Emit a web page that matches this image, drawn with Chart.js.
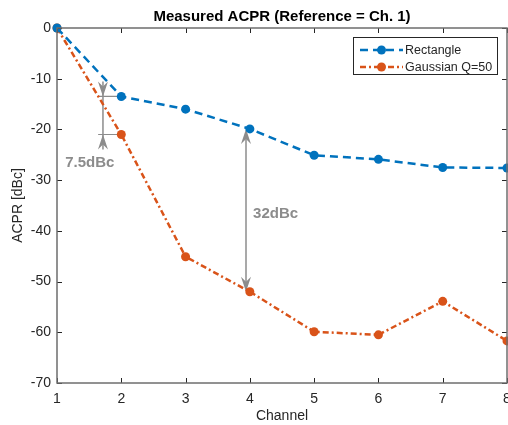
<!DOCTYPE html>
<html>
<head>
<meta charset="utf-8">
<script src="https://cdn.jsdelivr.net/npm/chart.js@4.4.1/dist/chart.umd.min.js"></script>
<style>
    html, body { margin: 0; padding: 0; overflow: hidden; background: #fff; }
    #wrap { position: relative; width: 520px; height: 425px; }
</style>
</head>
<body>
<div id="wrap"><canvas id="acprChart" width="520" height="425"></canvas></div>
<script>
// data
const channels = [1, 2, 3, 4, 5, 6, 7, 8];
const rectangle = [0, -13.5, -16.0, -19.9, -25.1, -25.9, -27.5, -27.6];
const gaussian = [0, -21.0, -45.1, -52.0, -59.9, -60.5, -53.9, -61.7];
const yTicks = [0, -10, -20, -30, -40, -50, -60, -70];
const seriesNames = ['Rectangle', 'Gaussian Q=50'];

// difference annotations (channel, from, to, label)
const gapSmall = { x: 1.715, from: -13.5, to: -21.0, text: '7.5dBc', inward: true, barFrom: 1.64, barTo: 2.0 };
const gapLarge = { x: 3.94, from: -19.9, to: -52.0, text: '32dBc', inward: false };
const gapSmallLabel = { x: 1.51, y: -26.6 };
const gapLargeLabel = { x: 4.40, y: -36.7 };

const BLUE = '#0072BD';
const ORANGE = '#D95319';
const GREY = '#8c8c8c';
const AXIS = '#262626';
const FONT = "'Liberation Sans', Arial, Helvetica, sans-serif";

function toPoints(ys) {
    return channels.map((c, i) => ({ x: c, y: ys[i] }));
}

function arrowHead(ctx, x, tipY, dir) {
    // dir = 1 -> pointing down, -1 -> pointing up
    const L = 15, w = 5, notch = 5;
    ctx.beginPath();
    ctx.moveTo(x, tipY);
    ctx.lineTo(x - w, tipY - dir * L);
    ctx.lineTo(x, tipY - dir * (L - notch));
    ctx.lineTo(x + w, tipY - dir * L);
    ctx.closePath();
    ctx.fill();
}

const annotationPlugin = {
    id: 'gapArrows',
    beforeDatasetsDraw(chart) {
        const ctx = chart.ctx;
        const xs = chart.scales.x, ys = chart.scales.y;
        ctx.save();
        ctx.strokeStyle = GREY;
        ctx.fillStyle = GREY;
        ctx.lineWidth = 1.5;

        [gapSmall, gapLarge].forEach(g => {
            const px = xs.getPixelForValue(g.x);
            const y1 = ys.getPixelForValue(g.from);
            const y2 = ys.getPixelForValue(g.to);
            ctx.beginPath();
            if (g.inward) {
                ctx.moveTo(px, y1 - 15);
                ctx.lineTo(px, y2 + 15);
            } else {
                ctx.moveTo(px, y1 + 6);
                ctx.lineTo(px, y2 - 6);
            }
            ctx.stroke();
            if (g.inward) {
                arrowHead(ctx, px, y1, 1);
                arrowHead(ctx, px, y2, -1);
                ctx.lineWidth = 1.2;
                ctx.beginPath();
                const b1 = xs.getPixelForValue(g.barFrom), b2 = xs.getPixelForValue(g.barTo);
                ctx.moveTo(b1, y1); ctx.lineTo(b2, y1);
                ctx.moveTo(b1, y2); ctx.lineTo(b2, y2);
                ctx.stroke();
                ctx.lineWidth = 1.5;
            } else {
                arrowHead(ctx, px, y1, -1);
                arrowHead(ctx, px, y2, 1);
            }
        });

        ctx.font = 'bold 15px ' + FONT;
        ctx.textBaseline = 'middle';
        ctx.textAlign = 'center';
        ctx.fillText(gapSmall.text, xs.getPixelForValue(gapSmallLabel.x), ys.getPixelForValue(gapSmallLabel.y));
        ctx.fillText(gapLarge.text, xs.getPixelForValue(gapLargeLabel.x), ys.getPixelForValue(gapLargeLabel.y));
        ctx.restore();
    }
};

const boxPlugin = {
    id: 'matlabBox',
    afterDraw(chart) {
        const ctx = chart.ctx;
        const a = chart.chartArea;
        const xs = chart.scales.x, ys = chart.scales.y;
        ctx.save();
        // inward ticks on all four sides
        ctx.strokeStyle = AXIS;
        ctx.lineWidth = 1;
        ctx.beginPath();
        yTicks.forEach(v => {
            const py = Math.round(ys.getPixelForValue(v)) + 0.5;
            ctx.moveTo(a.left, py); ctx.lineTo(a.left + 5, py);
            ctx.moveTo(a.right, py); ctx.lineTo(a.right - 5, py);
        });
        channels.forEach(c => {
            const px = Math.round(xs.getPixelForValue(c)) + 0.5;
            ctx.moveTo(px, a.bottom); ctx.lineTo(px, a.bottom - 5);
            ctx.moveTo(px, a.top); ctx.lineTo(px, a.top + 5);
        });
        ctx.stroke();
        ctx.strokeStyle = '#6e6e6e';
        ctx.lineWidth = 1.5;
        ctx.strokeRect(a.left, a.top, a.right - a.left, a.bottom - a.top);

        // legend
        const lx = 353, ly = 37, lw = 144, lh = 37;
        ctx.fillStyle = '#fff';
        ctx.fillRect(lx, ly, lw, lh);
        ctx.strokeStyle = '#262626';
        ctx.lineWidth = 1;
        ctx.strokeRect(lx + 0.5, ly + 0.5, lw, lh);
        chart.data.datasets.forEach((ds, i) => {
            const ry = ly + 13 + i * 17;
            ctx.strokeStyle = ds.borderColor;
            ctx.lineWidth = ds.borderWidth;
            ctx.setLineDash(ds.borderDash);
            ctx.beginPath();
            ctx.moveTo(360, ry); ctx.lineTo(403, ry);
            ctx.stroke();
            ctx.setLineDash([]);
            ctx.fillStyle = ds.pointBackgroundColor;
            ctx.beginPath();
            ctx.arc(381.5, ry, 4.5, 0, Math.PI * 2);
            ctx.fill();
            ctx.fillStyle = AXIS;
            ctx.font = '12.5px ' + FONT;
            ctx.textAlign = 'left';
            ctx.textBaseline = 'middle';
            ctx.fillText(ds.label, 405, ry + 0.5);
        });
        ctx.restore();
    }
};

new Chart(document.getElementById('acprChart'), {
    type: 'line',
    data: {
        datasets: [{
            label: seriesNames[0],
            data: toPoints(rectangle),
            borderColor: BLUE,
            backgroundColor: BLUE,
            pointBackgroundColor: BLUE,
            pointBorderColor: BLUE,
            borderWidth: 2.5,
            borderDash: [8, 5],
            pointRadius: 4.5,
            pointBorderWidth: 0,
            tension: 0,
            clip: false
        }, {
            label: seriesNames[1],
            data: toPoints(gaussian),
            borderColor: ORANGE,
            backgroundColor: ORANGE,
            pointBackgroundColor: ORANGE,
            pointBorderColor: ORANGE,
            borderWidth: 2.5,
            borderDash: [6, 3, 2, 3],
            pointRadius: 4.5,
            pointBorderWidth: 0,
            tension: 0,
            clip: false
        }]
    },
    options: {
        responsive: false,
        animation: false,
        devicePixelRatio: 1,
        layout: { padding: { left: 0, right: 13, top: 0, bottom: 0 } },
        plugins: {
            legend: { display: false },
            tooltip: { enabled: false },
            title: {
                display: true,
                text: 'Measured ACPR (Reference = Ch. 1)',
                fullSize: false,
                color: '#000',
                font: { family: FONT, size: 15, weight: 'bold' },
                padding: { top: 8, bottom: 2 }
            }
        },
        scales: {
            x: {
                type: 'linear',
                min: 1,
                max: 8,
                afterFit(scale) { scale.height = 42; },
                afterBuildTicks(scale) { scale.ticks = channels.map(v => ({ value: v })); },
                ticks: { color: AXIS, font: { family: FONT, size: 14 }, padding: 8, maxRotation: 0 },
                grid: { display: false, drawTicks: false },
                border: { display: false },
                title: { display: true, text: 'Channel', color: AXIS, font: { family: FONT, size: 14 }, padding: { top: 0, bottom: 0 } }
            },
            y: {
                min: -70,
                max: 0,
                afterFit(scale) { scale.width = 57; },
                afterBuildTicks(scale) { scale.ticks = yTicks.map(v => ({ value: v })); },
                ticks: { color: AXIS, font: { family: FONT, size: 14 }, padding: 6 },
                grid: { display: false, drawTicks: false },
                border: { display: false },
                title: { display: true, text: 'ACPR [dBc]', color: AXIS, font: { family: FONT, size: 14 }, padding: { top: 10, bottom: 0 } }
            }
        }
    },
    plugins: [annotationPlugin, boxPlugin]
});
</script>
</body>
</html>
